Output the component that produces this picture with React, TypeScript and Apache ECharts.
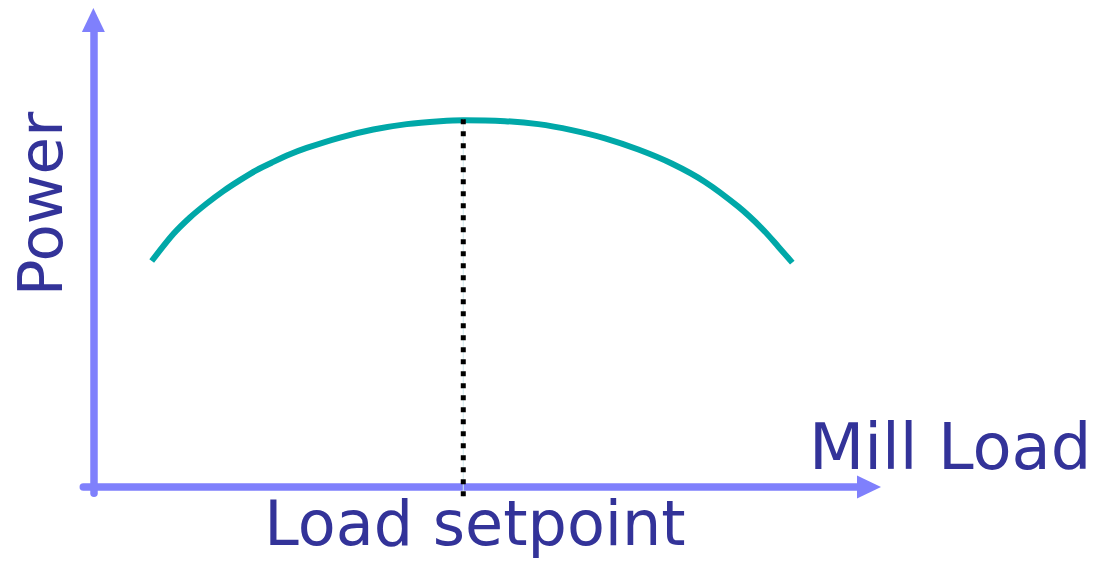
import React, { useEffect, useRef } from "react";
import * as echarts from "echarts";

// Power curve vs mill load (arbitrary units)
const millLoad = [
  0.752, 1.03, 1.245, 1.461, 1.675, 1.89, 2.105, 2.32, 2.535, 2.75, 3.18, 3.609, 4.04, 4.469, 4.769,
  5.307, 5.736, 6.167, 6.596, 7.026, 7.456, 7.886, 8.315, 8.617, 8.831, 9.011,
];
const power = [
  5.65, 6.325, 6.74, 7.09, 7.4, 7.675, 7.925, 8.13, 8.32, 8.48, 8.74, 8.94, 9.075, 9.15, 9.175,
  9.15, 9.075, 8.925, 8.72, 8.44, 8.09, 7.63, 7.01, 6.47, 6.01, 5.61,
];
const setpointX = 4.769;
const setpointTop = 9.2;
const setpointBottom = -0.25;

const axisTitleX = "Mill Load";
const axisTitleY = "Power";
const setpointLabel = "Load setpoint";

const AXIS_COLOR = "#7f80fc";
const CURVE_COLOR = "#00a8a8";
const TEXT_COLOR = "#333399";
const FONT = "DejaVu Sans, Verdana, sans-serif";

export default function App() {
  const ref = useRef<HTMLDivElement>(null);
  useEffect(() => {
    if (!ref.current) return;
    const chart = echarts.init(ref.current, undefined, { renderer: "svg" });
    const axisCommon = {
      type: "value" as const,
      axisLine: {
        show: true,
        onZero: true,
        symbol: ["none", "triangle"],
        symbolSize: [23, 24],
        lineStyle: { color: AXIS_COLOR, width: 7.5 },
      },
      axisTick: { show: false },
      axisLabel: { show: false },
      splitLine: { show: false },
    };
    const setpointData = [
      [setpointX, setpointTop],
      [setpointX, setpointBottom],
    ];
    chart.setOption({
      animation: false,
      grid: { left: 83.3, right: 224, top: 20, bottom: 69.7 },
      xAxis: { ...axisCommon, min: -0.13, max: 10 },
      yAxis: { ...axisCommon, min: -0.16, max: 11.68 },
      series: [
        {
          type: "line",
          data: millLoad.map((x, i) => [x, power[i]]),
          smooth: 0.3,
          showSymbol: false,
          clip: false,
          lineStyle: { color: CURVE_COLOR, width: 6 },
          z: 3,
        },
        {
          type: "line",
          data: setpointData,
          showSymbol: false,
          clip: false,
          lineStyle: { color: "#cfe9ee", width: 1 },
          z: 4,
        },
        {
          type: "line",
          data: setpointData,
          showSymbol: false,
          clip: false,
          lineStyle: { color: "#000000", width: 5, type: [5, 7], cap: "butt" },
          z: 5,
        },
      ],
      graphic: [
        {
          type: "text",
          x: 40,
          y: 204,
          rotation: Math.PI / 2,
          style: {
            text: axisTitleY,
            fontFamily: FONT,
            fontSize: 61,
            fill: TEXT_COLOR,
            align: "center",
            verticalAlign: "middle",
          },
        },
        {
          type: "text",
          x: 809,
          y: 447,
          style: {
            text: axisTitleX,
            fontFamily: FONT,
            fontSize: 64,
            fill: TEXT_COLOR,
            align: "left",
            verticalAlign: "middle",
          },
        },
        {
          type: "text",
          x: 475,
          y: 523,
          style: {
            text: setpointLabel,
            fontFamily: FONT,
            fontSize: 62,
            fill: TEXT_COLOR,
            align: "center",
            verticalAlign: "middle",
          },
        },
      ],
    });
    return () => chart.dispose();
  }, []);
  return <div ref={ref} style={{ width: 1093, height: 563, position: "absolute", left: 0, top: 0 }} />;
}
